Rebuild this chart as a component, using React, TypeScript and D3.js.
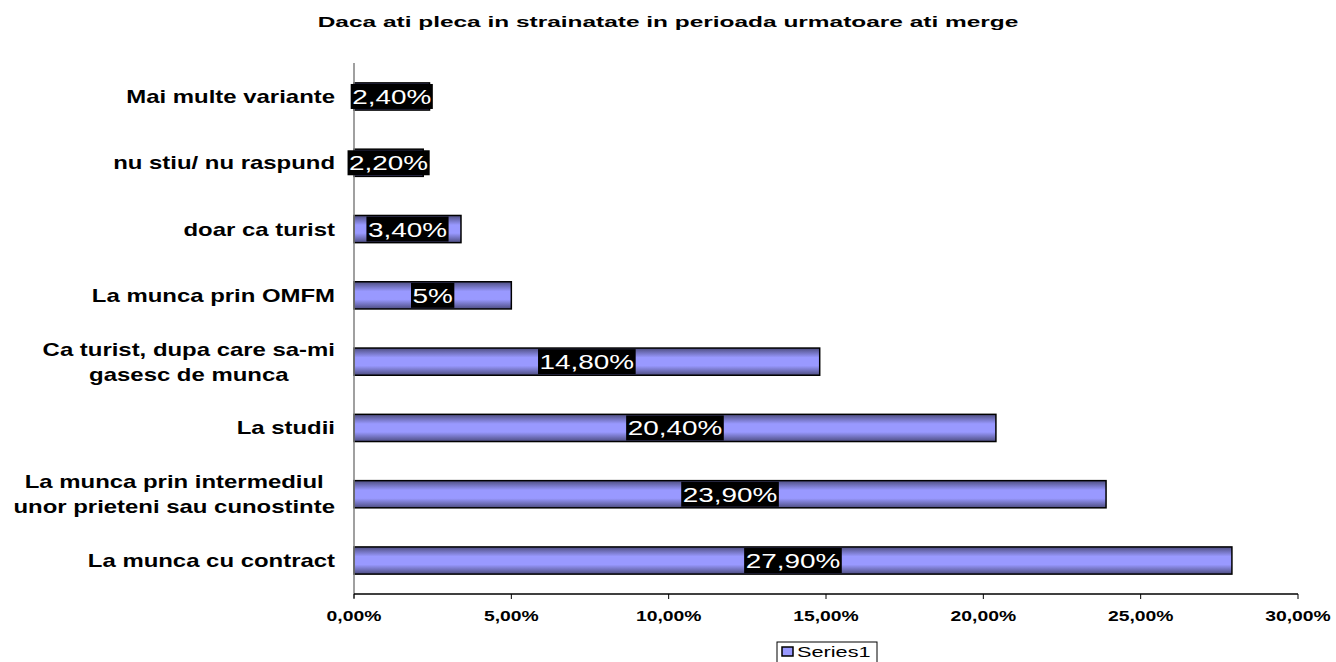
import { useRef, useEffect } from 'react'
import * as d3 from 'd3'

const categories = [
  'Mai multe variante',
  'nu stiu/ nu raspund',
  'doar ca turist',
  'La munca prin OMFM',
  'Ca turist, dupa care sa-mi\ngasesc de munca',
  'La studii',
  'La munca prin intermediul \nunor prieteni sau cunostinte',
  'La munca cu contract',
]
const values = [2.4, 2.2, 3.4, 5, 14.8, 20.4, 23.9, 27.9]
const valueLabels = ['2,40%', '2,20%', '3,40%', '5%', '14,80%', '20,40%', '23,90%', '27,90%']
const xTicks = [0, 5, 10, 15, 20, 25, 30]
const title = 'Daca ati pleca in strainatate in perioada urmatoare ati merge'
const seriesName = 'Series1'

const W = 1336
const H = 662
const FONT = '"Liberation Sans", Arial, Helvetica, sans-serif'

export default function App() {
  const svgRef = useRef<SVGSVGElement>(null)

  useEffect(() => {
    if (!svgRef.current) return
    const svg = d3.select(svgRef.current)
    svg.selectAll('*').remove()

    const margin = { top: 63, right: 38, bottom: 68, left: 354 }
    const innerW = W - margin.left - margin.right
    const innerH = H - margin.top - margin.bottom

    const defs = svg.append('defs')
    const grad = defs.append('linearGradient')
      .attr('id', 'barGrad')
      .attr('x1', 0).attr('y1', 0).attr('x2', 0).attr('y2', 1)
    grad.append('stop').attr('offset', '0%').attr('stop-color', '#4d4d80')
    grad.append('stop').attr('offset', '35%').attr('stop-color', '#9999ff')
    grad.append('stop').attr('offset', '65%').attr('stop-color', '#9999ff')
    grad.append('stop').attr('offset', '100%').attr('stop-color', '#4d4d80')

    // stretched text helper (the original chart is rendered wide)
    const stretchText = (
      parent: d3.Selection<any, unknown, null, undefined>,
      str: string, x: number, y: number, sx: number,
      size: number, weight: string, anchor: string, fill = '#000'
    ) => {
      const t = parent.append('text')
        .attr('transform', `translate(${x},${y}) scale(${sx},1)`)
        .attr('font-family', FONT)
        .attr('font-size', size)
        .attr('font-weight', weight)
        .attr('text-anchor', anchor)
        .attr('fill', fill)
        .text(str)
      return t
    }

    // title
    stretchText(svg as any, title, 668, 27, 1.63, 15, 'bold', 'middle')

    const g = svg.append('g').attr('transform', `translate(${margin.left},${margin.top})`)

    const x = d3.scaleLinear().domain([0, 30]).range([0, innerW])
    const y = d3.scaleBand<number>()
      .domain(d3.range(categories.length))
      .range([0, innerH])
      .paddingInner(0.59)
      .paddingOuter(0.3)

    // bars
    g.selectAll('rect.bar')
      .data(values)
      .join('rect')
      .attr('class', 'bar')
      .attr('x', 0)
      .attr('y', (_, i) => y(i)!)
      .attr('width', d => x(d))
      .attr('height', y.bandwidth())
      .attr('fill', 'url(#barGrad)')
      .attr('stroke', '#000')
      .attr('stroke-width', 1.5)

    // axes
    g.append('line')
      .attr('x1', 0).attr('x2', 0).attr('y1', 0).attr('y2', innerH + 4)
      .attr('stroke', '#808080').attr('stroke-width', 1.5)
    g.append('line')
      .attr('x1', 0).attr('x2', innerW).attr('y1', innerH).attr('y2', innerH)
      .attr('stroke', '#000').attr('stroke-width', 1.5)
    xTicks.forEach(t => {
      g.append('line')
        .attr('x1', x(t)).attr('x2', x(t))
        .attr('y1', innerH).attr('y2', innerH + 5)
        .attr('stroke', '#000').attr('stroke-width', 1)
      stretchText(g as any, `${t.toFixed(2).replace('.', ',')}%`, x(t), innerH + 27, 1.38, 14, 'bold', 'middle')
    })

    // category labels
    categories.forEach((c, i) => {
      const lines = c.split('\n')
      const cy = y(i)! + y.bandwidth() / 2
      const sx = 1.33
      const lh = 25
      const temp = lines.map(l => stretchText(g as any, l, 0, 0, sx, 18, 'bold', 'middle'))
      const widths = temp.map(t => (t.node() as SVGTextElement).getComputedTextLength() * sx)
      const maxW = Math.max(...widths)
      const cx = -19 - maxW / 2
      temp.forEach((t, k) => {
        const ly = cy + 6.5 + (k - (lines.length - 1) / 2) * lh
        t.attr('transform', `translate(${cx},${ly}) scale(${sx},1)`)
      })
    })

    // value labels
    values.forEach((v, i) => {
      const cx = x(v) / 2
      const cy = y(i)! + y.bandwidth() / 2
      const sx = 1.33
      const lg = g.append('g')
      const box = lg.append('rect')
      const t = stretchText(lg as any, valueLabels[i], cx, cy + 7.5, sx, 21, 'normal', 'middle', '#fff')
      const w = (t.node() as SVGTextElement).getComputedTextLength() * sx + 3
      box.attr('x', cx - w / 2).attr('y', cy - 12.5)
        .attr('width', w).attr('height', 25)
        .attr('fill', '#000')
    })

    // legend
    const leg = svg.append('g').attr('transform', 'translate(777,642)')
    leg.append('rect')
      .attr('width', 100).attr('height', 24)
      .attr('fill', '#fff').attr('stroke', '#000').attr('stroke-width', 1)
    leg.append('rect')
      .attr('x', 5).attr('y', 5).attr('width', 11).attr('height', 9)
      .attr('fill', '#9999ff').attr('stroke', '#000').attr('stroke-width', 1.5)
    stretchText(leg as any, seriesName, 20, 15, 1.55, 14, 'normal', 'start')
  }, [])

  return (
    <div style={{ position: 'fixed', left: 0, top: 0, width: W, height: H, background: '#fff' }}>
      <svg ref={svgRef} width={W} height={H} style={{ display: 'block' }} />
    </div>
  )
}
